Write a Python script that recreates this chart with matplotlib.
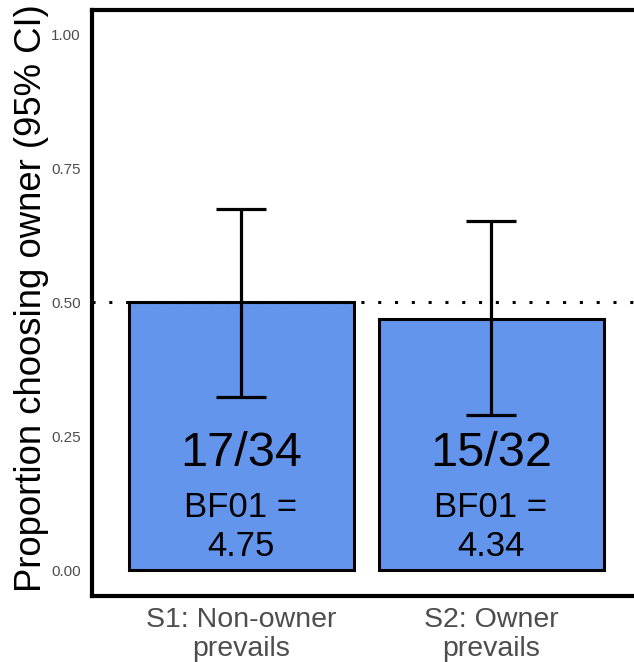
import matplotlib.pyplot as plt
import numpy as np

plt.rcParams['font.family'] = ['Liberation Sans', 'DejaVu Sans']

conditions = ['S1: Non-owner\nprevails', 'S2: Owner\nprevails']
chose_owner = [17, 15]
totals = [34, 32]
ci_low = [0.323, 0.289]
ci_high = [0.673, 0.651]
bf01 = ['4.75', '4.34']

props = np.array(chose_owner) / np.array(totals)
x = np.arange(1, len(conditions) + 1)

fig = plt.figure(figsize=(6.34, 6.62), dpi=100)
ax = fig.add_axes([92 / 634, 66 / 662, 549 / 634, 586 / 662])

ax.bar(x, props, width=0.9, color='#6495ED', edgecolor='black', linewidth=2.2, zorder=2)
ax.axhline(0.5, color='black', linestyle=(0, (1, 4.5)), linewidth=2.2, zorder=3)
ax.errorbar(x, props, yerr=[props - np.array(ci_low), np.array(ci_high) - props],
            fmt='none', ecolor='black', elinewidth=2.3, capsize=18, capthick=2.3, zorder=4)

for xi, c, n, bf in zip(x, chose_owner, totals, bf01):
    ax.text(xi, 0.218, f'{c}/{n}', ha='center', va='center', fontsize=35, zorder=5)
    ax.text(xi, 0.117, 'BF01 =', ha='center', va='center', fontsize=25, zorder=5)
    ax.text(xi, 0.043, bf, ha='center', va='center', fontsize=25, zorder=5)

ax.set_xlim(0.404, 2.6)
ax.set_ylim(-0.0485, 1.045)
ax.set_xticks(x)
ax.set_xticklabels(conditions, fontsize=20.5, color='#4d4d4d', linespacing=1.12)
ax.set_yticks([0, 0.25, 0.5, 0.75, 1.0])
ax.set_yticklabels(['0.00', '0.25', '0.50', '0.75', '1.00'], fontsize=11, color='#4d4d4d')
ax.tick_params(length=0)
ax.tick_params(axis='y', pad=8)
ax.tick_params(axis='x', pad=8)
ax.set_ylabel('Proportion choosing owner (95% CI)', fontsize=26.3)
ax.yaxis.set_label_coords(-0.079, 0.508)
for s in ax.spines.values():
    s.set_linewidth(3)

fig.savefig('out.png', dpi=100)
